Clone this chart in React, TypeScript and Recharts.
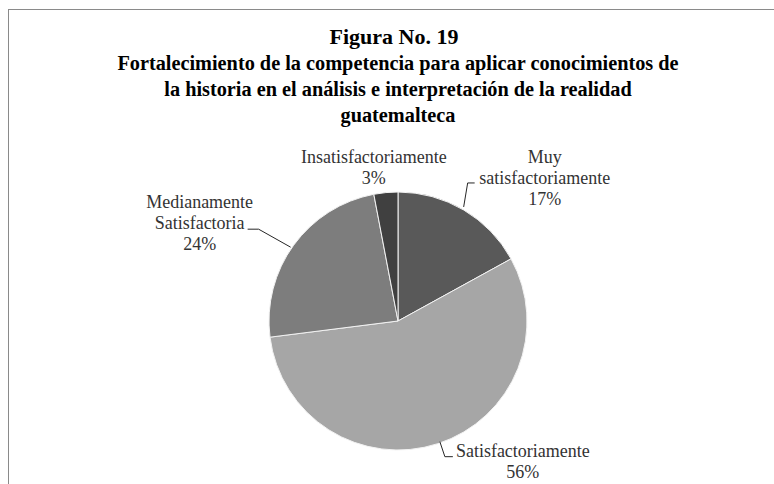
import React from 'react';
import { PieChart, Pie, Cell } from 'recharts';

const categories = [
    'Muy satisfactoriamente',
    'Satisfactoriamente',
    'Medianamente Satisfactoria',
    'Insatisfactoriamente',
];
const percents = [17, 56, 24, 3];
const sliceColors = ['#595959', '#a6a6a6', '#7d7d7d', '#404040'];

const titleLines = [
    'Fortalecimiento de la competencia para aplicar conocimientos de',
    'la historia en el análisis e interpretación de la realidad',
    'guatemalteca',
];

// label text split into lines, as in the original
const labelLines: Record<string, string[]> = {
    'Muy satisfactoriamente': ['Muy', 'satisfactoriamente'],
    Satisfactoriamente: ['Satisfactoriamente'],
    'Medianamente Satisfactoria': ['Medianamente', 'Satisfactoria'],
    Insatisfactoriamente: ['Insatisfactoriamente'],
};

// text offset and leader line, relative to the point on the arc
const labelLayout: Record<string, { dx: number; dy: number; leader: number[][] }> = {
    'Muy satisfactoriamente': { dx: 81, dy: -47, leader: [[0, -3], [4, -27], [11, -27]] },
    Satisfactoriamente: { dx: 85, dy: 13, leader: [[2, -2], [7, 13], [15, 13]] },
    'Medianamente Satisfactoria': { dx: -94, dy: -37, leader: [[-3, 2], [-35, -16], [-46, -16]] },
    Insatisfactoriamente: { dx: -12, dy: -30, leader: [] },
};

const data = categories.map((name, i) => ({ name, value: percents[i] }));

const RADIAN = Math.PI / 180;
const LINE_H = 21;

function renderLabel(props: any) {
    const { cx, cy, midAngle, outerRadius, name, value } = props;
    const ax = cx + outerRadius * Math.cos(-midAngle * RADIAN);
    const ay = cy + outerRadius * Math.sin(-midAngle * RADIAN);
    const lay = labelLayout[name];
    const lines = [...labelLines[name], `${value}%`];
    return (
        <g>
            {lay.leader.length > 0 && (
                <polyline
                    points={lay.leader.map(([x, y]) => `${ax + x},${ay + y}`).join(' ')}
                    fill="none"
                    stroke="#262626"
                    strokeWidth={1}
                />
            )}
            <text
                x={ax + lay.dx}
                y={ay + lay.dy}
                textAnchor="middle"
                fill="#333333"
                fontFamily="'Liberation Serif', serif"
                fontSize={18}
            >
                {lines.map((l, i) => (
                    <tspan key={i} x={ax + lay.dx} dy={i === 0 ? 0 : LINE_H}>
                        {l}
                    </tspan>
                ))}
            </text>
        </g>
    );
}

export default function App() {
    return (
        <div style={{ position: 'fixed', left: 0, top: 0, width: 774, height: 484, overflow: 'hidden', background: '#fff' }}>
            <div
                style={{
                    position: 'absolute',
                    left: 8,
                    top: 9,
                    width: 800,
                    height: 500,
                    borderTop: '1px solid #8a8a8a',
                    borderLeft: '1px solid #8a8a8a',
                }}
            />
            <svg width={774} height={140} style={{ position: 'absolute', left: 0, top: 0 }}>
                <text
                    x={394}
                    y={44}
                    textAnchor="middle"
                    fontFamily="'Liberation Serif', serif"
                    fontWeight="bold"
                    fontSize={22}
                    fill="#000"
                >
                    Figura No. 19
                </text>
                {titleLines.map((t, i) => (
                    <text
                        key={i}
                        x={398}
                        y={70 + i * 26}
                        textAnchor="middle"
                        fontFamily="'Liberation Serif', serif"
                        fontWeight="bold"
                        fontSize={20.3}
                        fill="#000"
                    >
                        {t}
                    </text>
                ))}
            </svg>
            <div style={{ position: 'absolute', left: 0, top: 0 }}>
                <PieChart width={774} height={484} margin={{ top: 0, right: 0, bottom: 0, left: 0 }}>
                    <Pie
                        data={data}
                        dataKey="value"
                        nameKey="name"
                        cx={398}
                        cy={321}
                        outerRadius={129}
                        startAngle={90}
                        endAngle={-270}
                        stroke="#f2f2f2"
                        strokeWidth={1}
                        label={renderLabel}
                        labelLine={false}
                        isAnimationActive={false}
                    >
                        {data.map((d, i) => (
                            <Cell key={d.name} fill={sliceColors[i]} />
                        ))}
                    </Pie>
                </PieChart>
            </div>
        </div>
    );
}
